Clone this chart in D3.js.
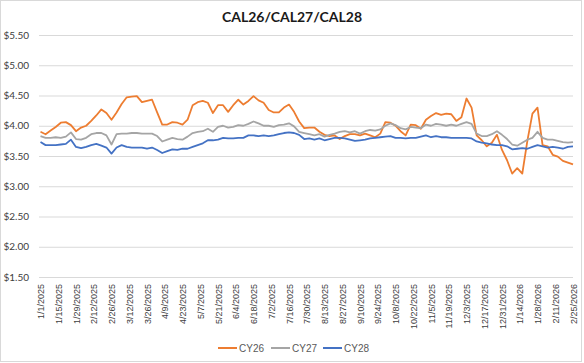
<!DOCTYPE html>
<html>
<head>
<meta charset="utf-8">
<script src="https://cdn.jsdelivr.net/npm/d3@7"></script>
<style>
body { margin: 0; background: #fff; }
</style>
</head>
<body>
<script>
// data (roughly every 4 days)
var dates = [
    '2025-01-01', '2025-01-05', '2025-01-09', '2025-01-13', '2025-01-17', '2025-01-21', '2025-01-25', '2025-01-29',
    '2025-02-02', '2025-02-06', '2025-02-10', '2025-02-14', '2025-02-18', '2025-02-22', '2025-02-26',
    '2025-03-02', '2025-03-06', '2025-03-10', '2025-03-14', '2025-03-18', '2025-03-22', '2025-03-26', '2025-03-30',
    '2025-04-03', '2025-04-07', '2025-04-11', '2025-04-15', '2025-04-19', '2025-04-23', '2025-04-27',
    '2025-05-01', '2025-05-05', '2025-05-09', '2025-05-13', '2025-05-17', '2025-05-21', '2025-05-25', '2025-05-29',
    '2025-06-02', '2025-06-06', '2025-06-10', '2025-06-14', '2025-06-18', '2025-06-22', '2025-06-26', '2025-06-30',
    '2025-07-04', '2025-07-08', '2025-07-12', '2025-07-16', '2025-07-20', '2025-07-24', '2025-07-28',
    '2025-08-01', '2025-08-05', '2025-08-09', '2025-08-13', '2025-08-17', '2025-08-21', '2025-08-25', '2025-08-29',
    '2025-09-02', '2025-09-06', '2025-09-10', '2025-09-14', '2025-09-18', '2025-09-22', '2025-09-26', '2025-09-30',
    '2025-10-04', '2025-10-08', '2025-10-12', '2025-10-16', '2025-10-20', '2025-10-24', '2025-10-28',
    '2025-11-01', '2025-11-05', '2025-11-09', '2025-11-13', '2025-11-17', '2025-11-21', '2025-11-25', '2025-11-29',
    '2025-12-03', '2025-12-07', '2025-12-11', '2025-12-15', '2025-12-19', '2025-12-23', '2025-12-27', '2025-12-31',
    '2026-01-04', '2026-01-08', '2026-01-12', '2026-01-16', '2026-01-20', '2026-01-24', '2026-01-28',
    '2026-02-01', '2026-02-05', '2026-02-09', '2026-02-13', '2026-02-17', '2026-02-21', '2026-02-25'
];

var cy26 = [
    3.90, 3.86, 3.92, 3.98, 4.05, 4.06, 4.01, 3.91,
    3.97, 4.00, 4.08, 4.17, 4.27, 4.21, 4.10,
    4.22, 4.36, 4.47, 4.48, 4.49, 4.39, 4.41, 4.43,
    4.22, 4.02, 4.02, 4.06, 4.05, 4.02, 4.10,
    4.34, 4.39, 4.41, 4.38, 4.21, 4.34, 4.34, 4.23,
    4.34, 4.43, 4.35, 4.41, 4.49, 4.42, 4.38, 4.26,
    4.22, 4.22, 4.30, 4.35, 4.23, 4.07, 3.96,
    3.97, 3.97, 3.90, 3.85, 3.83, 3.84, 3.78, 3.83,
    3.86, 3.86, 3.84, 3.87, 3.84, 3.81, 3.87, 4.06,
    4.05, 4.00, 3.91, 3.84, 4.02, 4.01, 3.95,
    4.10, 4.16, 4.21, 4.18, 4.20, 4.19, 4.08, 4.14,
    4.45, 4.30, 3.84, 3.76, 3.66, 3.72, 3.85, 3.60,
    3.43, 3.21, 3.30, 3.21, 3.75, 4.20, 4.30,
    3.68, 3.66, 3.52, 3.49, 3.42, 3.39, 3.36
];

var cy27 = [
    3.83, 3.80, 3.80, 3.81, 3.80, 3.82, 3.89, 3.78,
    3.77, 3.80, 3.86, 3.88, 3.88, 3.84, 3.69,
    3.86, 3.87, 3.87, 3.88, 3.88, 3.87, 3.87, 3.87,
    3.83, 3.74, 3.77, 3.80, 3.78, 3.77, 3.82,
    3.88, 3.90, 3.91, 3.95, 3.90, 3.98, 4.00, 3.97,
    3.98, 4.01, 4.00, 4.03, 4.07, 4.04, 4.00, 4.00,
    3.98, 4.01, 4.02, 4.04, 3.99, 3.90, 3.88,
    3.86, 3.84, 3.86, 3.82, 3.85, 3.87, 3.90, 3.91,
    3.89, 3.91, 3.87, 3.91, 3.93, 3.92, 3.94, 4.00,
    4.04, 4.01, 3.96, 3.94, 3.98, 3.97, 3.96,
    4.02, 4.00, 4.03, 4.02, 4.00, 4.02, 4.00, 4.03,
    4.06, 4.03, 3.87, 3.83, 3.83, 3.86, 3.91, 3.85,
    3.78, 3.69, 3.67, 3.72, 3.77, 3.80, 3.90,
    3.80, 3.77, 3.77, 3.75, 3.73, 3.72, 3.73
];

var cy28 = [
    3.73, 3.68, 3.68, 3.68, 3.69, 3.70, 3.77, 3.65,
    3.63, 3.65, 3.68, 3.70, 3.67, 3.64, 3.54,
    3.64, 3.68, 3.65, 3.64, 3.64, 3.64, 3.62, 3.64,
    3.60, 3.55, 3.58, 3.61, 3.60, 3.62, 3.62,
    3.65, 3.68, 3.71, 3.76, 3.76, 3.77, 3.80, 3.79,
    3.79, 3.80, 3.80, 3.84, 3.84, 3.83, 3.84, 3.83,
    3.84, 3.86, 3.88, 3.89, 3.88, 3.85, 3.78,
    3.79, 3.77, 3.79, 3.76, 3.78, 3.80, 3.80, 3.79,
    3.77, 3.75, 3.76, 3.77, 3.79, 3.80, 3.81, 3.82,
    3.83, 3.80, 3.80, 3.79, 3.80, 3.80, 3.82,
    3.84, 3.81, 3.83, 3.81, 3.81, 3.80, 3.80, 3.80,
    3.80, 3.79, 3.74, 3.72, 3.71, 3.69, 3.68, 3.68,
    3.66, 3.61, 3.62, 3.63, 3.62, 3.65, 3.68,
    3.66, 3.64, 3.65, 3.64, 3.62, 3.65, 3.66
];

var seriesNames = ['CY26', 'CY27', 'CY28'];
var seriesColors = ['#ED7D31', '#A5A5A5', '#4472C4'];

var yTicks = [1.5, 2.0, 2.5, 3.0, 3.5, 4.0, 4.5, 5.0, 5.5];
var xTickLabels = [
    '1/1/2025', '1/15/2025', '1/29/2025', '2/12/2025', '2/26/2025', '3/12/2025', '3/26/2025',
    '4/9/2025', '4/23/2025', '5/7/2025', '5/21/2025', '6/4/2025', '6/18/2025', '7/2/2025',
    '7/16/2025', '7/30/2025', '8/13/2025', '8/27/2025', '9/10/2025', '9/24/2025', '10/8/2025',
    '10/22/2025', '11/5/2025', '11/19/2025', '12/3/2025', '12/17/2025', '12/31/2025',
    '1/14/2026', '1/28/2026', '2/11/2026', '2/25/2026'
];

var width = 584,
    height = 363;

var svg = d3.select('body').append('svg').attr('width', width).attr('height', height);

// chart border
svg.append('rect')
    .attr('x', 0.5).attr('y', 0.5)
    .attr('width', width - 3).attr('height', height - 2)
    .attr('fill', '#fff')
    .attr('stroke', '#d9d9d9');

var parseDay = d3.timeParse('%Y-%m-%d');
var parseLabel = d3.timeParse('%m/%d/%Y');

var x = d3.scaleTime()
    .domain([parseLabel('1/1/2025'), parseLabel('2/25/2026')])
    .range([40.5, 573]);

var y = d3.scaleLinear()
    .domain([1.5, 5.5])
    .range([277, 35]);

// title
svg.append('text')
    .attr('x', 292).attr('y', 22)
    .attr('text-anchor', 'middle')
    .style('font-family', 'Lato, sans-serif')
    .style('font-size', '14px')
    .style('font-weight', 'bold')
    .style('fill', '#1a1a1a')
    .text('CAL26/CAL27/CAL28');

// y gridlines + labels
var yAxis = d3.axisLeft(y)
    .tickValues(yTicks)
    .tickSize(-(573 - 39))
    .tickPadding(8)
    .tickFormat(d3.format('$.2f'));

var gy = svg.append('g')
    .attr('transform', 'translate(39,0)')
    .call(yAxis);
gy.select('.domain').remove();
gy.selectAll('.tick line').attr('stroke', '#d9d9d9');
gy.selectAll('.tick text')
    .attr('x', -10)
    .style('font-family', 'Lato, sans-serif')
    .style('font-size', '10px')
    .style('fill', '#404040');

// x labels
var xAxis = d3.axisBottom(x)
    .tickValues(xTickLabels.map(function (s) { return parseLabel(s); }))
    .tickSize(0)
    .tickFormat(function (d, i) { return xTickLabels[i]; });

var gx = svg.append('g')
    .attr('transform', 'translate(0,277)')
    .call(xAxis);
gx.select('.domain').remove();
gx.selectAll('.tick text')
    .attr('transform', 'rotate(-90)')
    .attr('x', -7)
    .attr('y', 0)
    .attr('dy', '0.35em')
    .attr('text-anchor', 'end')
    .style('font-family', '"Liberation Sans", Arial, sans-serif')
    .style('font-size', '9px')
    .style('fill', '#404040');

// lines
var allSeries = [cy26, cy27, cy28];
var line = d3.line()
    .x(function (d) { return x(d.date); })
    .y(function (d) { return y(d.value); });

allSeries.forEach(function (vals, s) {
    var pts = vals.map(function (v, i) {
        return { date: parseDay(dates[i]), value: v };
    });
    svg.append('path')
        .datum(pts)
        .attr('d', line)
        .attr('fill', 'none')
        .attr('stroke', seriesColors[s])
        .attr('stroke-width', 1.8)
        .attr('stroke-linejoin', 'round');
});

// legend
var legendX = [218, 271, 323];
var legend = svg.selectAll('.legend')
    .data(seriesNames)
    .enter()
    .append('g')
    .attr('class', 'legend')
    .attr('transform', function (d, i) { return 'translate(' + legendX[i] + ',348)'; });
legend.append('line')
    .attr('x1', 0).attr('x2', 19)
    .attr('y1', 0).attr('y2', 0)
    .attr('stroke', function (d, i) { return seriesColors[i]; })
    .attr('stroke-width', 2);
legend.append('text')
    .attr('x', 21).attr('y', 0)
    .attr('dy', '0.35em')
    .style('font-family', '"Liberation Sans", Arial, sans-serif')
    .style('font-size', '10px')
    .style('fill', '#595959')
    .text(function (d) { return d; });
</script>
</body>
</html>
